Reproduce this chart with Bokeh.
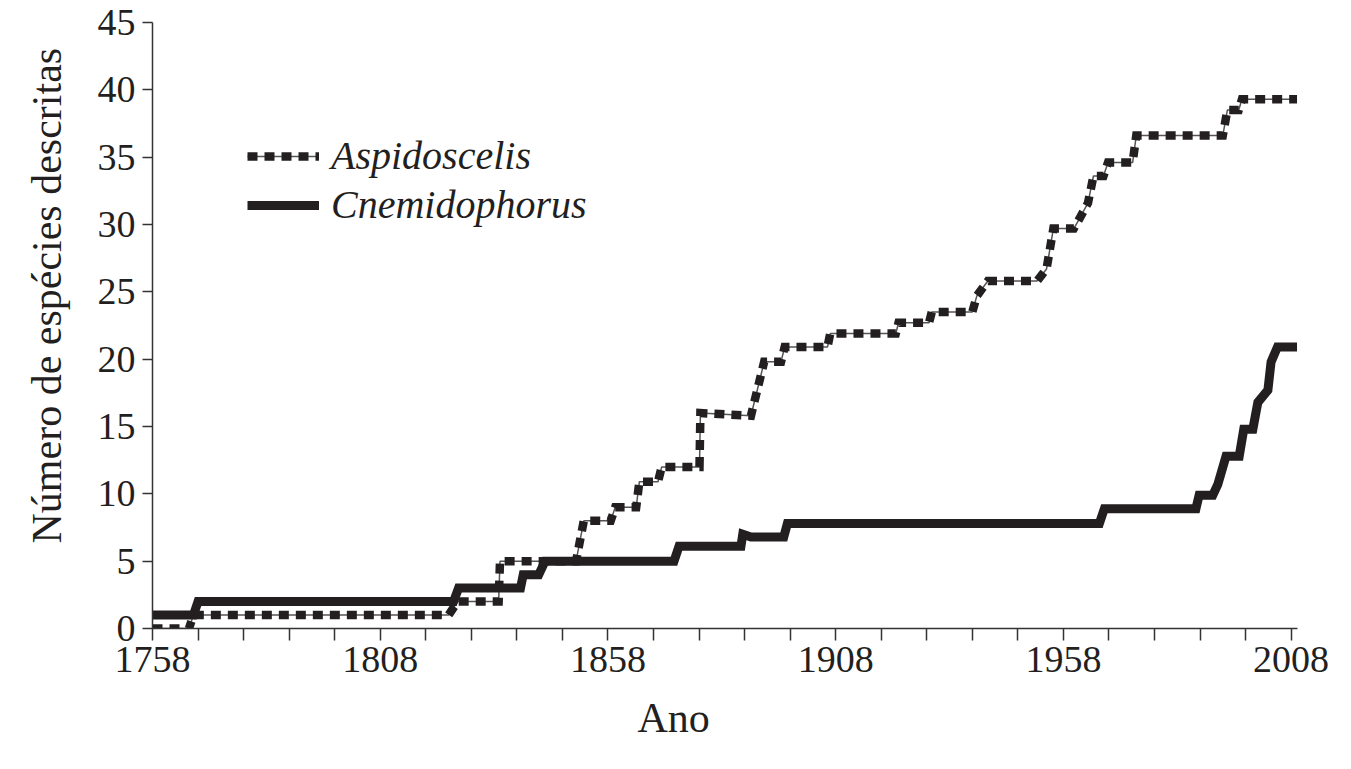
from bokeh.plotting import figure
from bokeh.models import Range1d, FixedTicker, Legend, LegendItem, Title
from bokeh.embed import file_html
from bokeh.resources import INLINE

# ---- data ----
aspido_years = [1758, 1766, 1767, 1823, 1825, 1834, 1834.3, 1851, 1852.7, 1858.6, 1859.6,
                1864.2, 1864.9, 1869, 1869.8, 1878.1, 1878.3, 1889.4, 1892.3, 1896, 1896.8,
                1906.2, 1906.8, 1921.2, 1921.8, 1928.5, 1929.1, 1938, 1939, 1941.4, 1952.2,
                1954.3, 1955.8, 1960.3, 1961.8, 1963.4, 1964.6, 1966.8, 1967.8, 1973.2, 1974,
                1993, 1994, 1996.5, 1997.2, 2009.3]
aspido_count = [0, 0, 1, 1, 2, 2, 5, 5, 8, 8, 9,
                9, 10.9, 10.9, 12, 12, 16, 15.8, 19.8, 19.8, 20.9,
                20.9, 21.9, 21.9, 22.7, 22.7, 23.5, 23.5, 24.7, 25.8, 25.8,
                26.7, 29.7, 29.7, 30.6, 31.6, 33.6, 33.6, 34.6, 34.6, 36.6,
                36.6, 38.5, 38.5, 39.3, 39.3]

cnemi_years = [1758, 1767, 1768, 1824.1, 1825.2, 1838.8, 1839.4, 1842.8, 1844.2, 1872.5,
               1873.6, 1887.2, 1887.6, 1889.4, 1896.6, 1897.4, 1965.9, 1967, 1987.1, 1987.8,
               1990.8, 1991.9, 1993.7, 1996.6, 1997.6, 1999.6, 2000.7, 2002.9, 2003.6, 2005,
               2009.3]
cnemi_count = [1, 1, 2, 2, 3, 3, 4, 4, 5, 5,
               6.1, 6.1, 7.0, 6.8, 6.8, 7.8, 7.8, 8.9, 8.9, 9.9,
               9.9, 10.7, 12.8, 12.8, 14.8, 14.8, 16.8, 17.7, 19.8, 20.9,
               20.9]

x_label_years = [1758, 1808, 1858, 1908, 1958, 2008]
x_minor_years = [1768, 1778, 1788, 1798, 1818, 1828, 1838, 1848, 1868, 1878, 1888, 1898,
                 1918, 1928, 1938, 1948, 1968, 1978, 1988, 1998]
y_ticks = [0, 5, 10, 15, 20, 25, 30, 35, 40, 45]

series_names = ["Aspidoscelis", "Cnemidophorus"]
x_title = "Ano"
y_title = "Número de espécies descritas"

INK = "#231f20"
FONT = "Liberation Serif"

p = figure(width=1343, height=768, output_backend="svg", toolbar_location=None,
           x_range=Range1d(1758, 2009.4), y_range=Range1d(0, 45),
           min_border_left=152, min_border_right=46, min_border_top=22, min_border_bottom=140)
p.outline_line_color = None
p.grid.visible = False
p.background_fill_color = "white"

# axes
p.xaxis.ticker = FixedTicker(ticks=x_label_years, minor_ticks=x_minor_years)
p.yaxis.ticker = FixedTicker(ticks=y_ticks)
for ax in (p.xaxis, p.yaxis):
    ax.axis_line_color = "#333333"
    ax.axis_line_width = 1.5
    ax.major_tick_line_color = "#333333"
    ax.major_tick_line_width = 1.5
    ax.major_tick_in = 0
    ax.major_label_text_font = FONT
    ax.major_label_text_font_size = "38px"
    ax.major_label_text_color = INK

p.xaxis.major_tick_out = 12
p.xaxis.minor_tick_out = 12
p.xaxis.minor_tick_in = 0
p.xaxis.minor_tick_line_color = "#333333"
p.xaxis.minor_tick_line_width = 1.5
p.xaxis.major_label_standoff = 6

p.yaxis.major_tick_out = 10
p.yaxis.minor_tick_line_color = None
p.yaxis.major_label_standoff = 7

# axis titles as side-panel titles, offset as in the reference
p.add_layout(Title(text=x_title, align="left", offset=485, text_font=FONT,
                   text_font_size="42px", text_font_style="normal", text_color=INK,
                   standoff=36, vertical_align="bottom"), "below")
p.add_layout(Title(text=y_title, align="left", offset=85, text_font=FONT,
                   text_font_size="42px", text_font_style="normal", text_color=INK,
                   standoff=46, vertical_align="top"), "left")

# series
a_thin = p.line(aspido_years, aspido_count, line_color="#555555", line_width=1.5)
a_dash = p.line(aspido_years, aspido_count, line_color=INK, line_width=8.5,
                line_dash="10 7", line_cap="butt", line_join="miter")
c_line = p.line(cnemi_years, cnemi_count, line_color=INK, line_width=9,
                line_cap="butt", line_join="miter")

legend = Legend(items=[LegendItem(label=series_names[0], renderers=[a_thin, a_dash]),
                       LegendItem(label=series_names[1], renderers=[c_line])],
                location=(95, 400), border_line_color=None, background_fill_alpha=0,
                padding=0, margin=0, spacing=2, glyph_width=72, glyph_height=46,
                label_height=46, label_standoff=12,
                label_text_font=FONT, label_text_font_size="40px",
                label_text_font_style="italic", label_text_color=INK)
p.add_layout(legend)

open("out.html", "w").write(file_html(p, INLINE))
